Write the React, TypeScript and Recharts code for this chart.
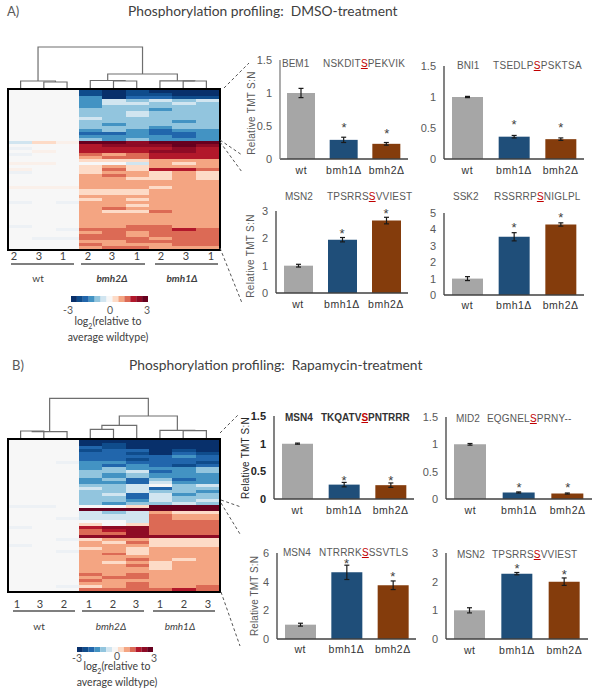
import { BarChart, Bar, Cell, ComposedChart, ErrorBar, Line, ScatterChart, Scatter, XAxis, YAxis } from 'recharts';

// shared categories
const strains = ['wt', 'bmh1Δ', 'bmh2Δ'];
const strainColors = ['#a6a6a6', '#1f4e79', '#843c0c'];

// bar values
const bem1Values = [1, 0.29, 0.23];
const bem1Errors = [0.07, 0.04, 0.02];
const bem1Stars = [null, 0.5, 0.405];
const bni1Values = [1, 0.36, 0.32];
const bni1Errors = [0.01, 0.02, 0.02];
const bni1Stars = [null, 0.575, 0.54];
const msn2Values = [1, 1.95, 2.65];
const msn2Errors = [0.05, 0.08, 0.12];
const msn2Stars = [null, 2.24, 2.98];
const ssk2Values = [1, 3.55, 4.3];
const ssk2Errors = [0.12, 0.25, 0.1];
const ssk2Stars = [null, 4.19, 4.84];
const msn4aValues = [1, 0.26, 0.25];
const msn4aErrors = [0.01, 0.04, 0.04];
const msn4aStars = [null, 0.37, 0.37];
const mid2Values = [1, 0.12, 0.1];
const mid2Errors = [0.015, 0.01, 0.01];
const mid2Stars = [null, 0.24, 0.24];
const msn4bValues = [1, 4.65, 3.75];
const msn4bErrors = [0.1, 0.5, 0.3];
const msn4bStars = [null, 5.39, 4.48];
const msn2bValues = [1, 2.28, 2.0];
const msn2bErrors = [0.09, 0.04, 0.13];
const msn2bStars = [null, 2.51, 2.3];

// heatmap colours by log2 level
const heatLevels = [-3, -2.5, -2, -1.5, -1, -0.5, -0.25, 0, 0.25, 0.5, 1, 1.5, 2, 2.5, 3];
const heatColors = ['#08306b', '#0f4c8c', '#2166ac', '#4393c3', '#92c5de', '#d1e5f0', '#edf1f5', '#f7f7f7', '#faf0ea', '#fddbc7', '#f4a582', '#dc6a55', '#b2182b', '#8e0b25', '#67001f'];
const legendLevels = [-3, -2.5, -2, -1.5, -1, -0.5, 0, 0.5, 1, 1.5, 2, 2.5, 3];

// one row per phosphosite, nine samples: wt x3, bmh2 x3, bmh1 x3
const dmsoRows = [
  [0, 0, 0, -2.5, -3, -2.5, -3, -3, -3],
  [0, 0, 0, -2.5, -3, -2.5, -2.5, -3, -3],
  [0, 0, 0, -1.5, -3, -2, -2, -2.5, -2.5],
  [0, 0, 0, -1.5, -0.5, -1, -0.5, -1, -0.5],
  [0, 0, 0, -1.5, -0.5, -0.5, -1, -0.5, -1],
  [0, 0, 0, -1.5, -1, -1, -1, -1, -1],
  [0, 0, 0, -1, -1, -1, -1.5, -1, -1],
  [0, 0, 0, -1, -1, -0.5, -1, -1, -1],
  [0, 0, 0, -1, -1, -0.5, -1, -1, -1],
  [0, 0, 0, -0.5, -1, -1, -1, -1, -1],
  [0, 0, 0, -1, -1, -1, -1, -1.5, -1],
  [0, 0, 0, -1, -1.5, -1, -1, -1, -1],
  [0, 0, 0, -1, -1, -1, -1.5, -1, -1],
  [0, 0, 0, -1.5, -1, -1.5, -2, -1.5, -1.5],
  [0, 0, 0, -2, -2, -1.5, -2, -2, -1.5],
  [0, 0, 0, -1.5, -1.5, -1.5, -1.5, -2, -1.5],
  [0, 0, 0, -1, -1.5, -1, -1.5, -1.5, -1.5],
  [-0.5, 0.5, 0.25, 3, 3, 2.5, 3, 3, 3],
  [0, 0, 0, 2, 2.5, 2.5, 2.5, 3, 2.5],
  [-0.25, 0, 0, 2, 2, 2, 2, 2.5, 2],
  [0, 0.25, 0, 2, 2, 2, 2.5, 2.5, 2],
  [-0.25, 0, 0, 1.5, 1, 1.5, 2, 2, 2],
  [0, 0, 0, 1, 1.5, 1.5, 2, 2, 2],
  [0, 0, 0, 0.5, 0.5, 0.5, 1, 1, 1],
  [0.25, 0.25, 0, 0, 0, -0.5, 1, 0.5, 1],
  [0, 0, 0, 0.5, 1, 0.5, 1, 1, 1],
  [0.25, 0, 0, 0.5, 1.5, 0.5, 2, 2, 1.5],
  [-0.25, 0, 0, 0.5, 1, 1, 0.5, 1, 0.5],
  [0, 0, 0, 1, 1.5, 1, 0.5, 1, 0.5],
  [0, 0, 0, 1, 1, 0.5, 0.5, 1, 0.5],
  [0, 0, 0, 1, 1, 1, 1, 1, 1],
  [0, 0, 0, 1, 1, 1, 1, 1, 1],
  [0.25, 0.25, 0.25, 1, 1, 1, 0.5, 1, 1],
  [0, 0, 0, 0.5, 0.5, 0.5, 1, 1, 1],
  [0, 0, 0, 0.5, 0.5, 0.5, 1, 1, 1],
  [0, 0, 0, 1, 1, 1, 1, 1, 1],
  [0, 0, 0, 0.5, 1, 0.5, 1, 1, 1],
  [-0.25, 0, -0.25, 1, 1, 1, 1, 1, 1],
  [0, 0, 0, 1, 1, 0.5, 1, 1, 1],
  [0, 0, 0, 1, 1.5, 1, 1, 1, 1],
  [0, 0, 0, 1, 0.5, 0.5, 1.5, 1, 1],
  [0, 0, 0, 1, 1, 1, 1, 1, 1],
  [0, 0, 0, 1, 1, 1, 1, 1, 1],
  [0, 0, 0, 1, 1, 1, 1, 1, 1],
  [0, 0, 0, 1, 1, 1, 1, 1, 1],
  [-0.25, 0, 0, 1, 1, 1.5, 1.5, 1, 1],
  [0, 0, -0.25, 1.5, 1.5, 1.5, 1.5, 2, 1.5],
  [0, 0, 0, 1, 1.5, 1, 1.5, 1.5, 1.5],
  [0, 0, 0, 1.5, 1.5, 1, 1.5, 1.5, 1.5],
  [0, -0.25, -0.25, 1.5, 1.5, 1.5, 1, 1.5, 1.5],
  [0, 0, 0, 1, 1, 1.5, 1.5, 1.5, 1.5],
  [0, 0, 0, 1.5, 1, 1, 1, 1.5, 1.5],
  [0, 0, 0, 1, 1.5, 1.5, 1, 1, 1],
];

const rapaRows = [
  [0, 0, 0, -3, -3, -3, -3, -3, -3],
  [0, 0, 0, -3, -2.5, -3, -3, -3, -3],
  [0, 0, 0, -2, -2.5, -3, -3, -3, -3],
  [0, 0, 0, -2.5, -2, -2, -3, -2.5, -3],
  [0, 0, 0, -2, -2, -2.5, -3, -2, -2.5],
  [0, 0, 0, -2, -2, -2, -2, -1.5, -2],
  [0, 0, 0, -2, -2, -2.5, -2, -2, -2],
  [0, 0, -0.25, -1.5, -1.5, -2, -2, -2, -2.5],
  [0, 0, 0, -1.5, -2, -1.5, -2, -2.5, -2],
  [0, 0, 0, -1.5, -1, -1.5, -1.5, -1.5, -1],
  [0, 0, 0, -1, -1, -0.5, -2, -1.5, -1],
  [0, 0, 0, -1, -1.5, -1, -1.5, -1.5, -1.5],
  [0, 0, 0, -1, -1.5, -1, -1.5, -1.5, -1.5],
  [0, 0, 0, -1.5, -1, -2, -1, -2, -1.5],
  [0, 0, 0, -1.5, -1.5, -2, -0.5, -1.5, -1.5],
  [0, 0, 0, -1, -1, -0.5, 0, -1, -0.5],
  [0, 0, 0, -0.5, -1, -0.5, -2, -1, -1],
  [0, 0, 0, -1, -1, -0.5, -1, -1, -1.5],
  [0, 0, 0, -1, -0.5, -2, -0.5, -1.5, -1],
  [0, 0, 0, -1, -1, -2, -0.5, -1, -1],
  [0, 0, 0, -1, -1, -1.5, -0.5, -1, -0.5],
  [0, 0, 0, -1, -1.5, -1, -1, -0.5, -1],
  [-0.25, -0.25, 0, 0, 0, 0.5, 3, 3, 3],
  [0, 0, 0, 3, 3, 3, 3, 3, 3],
  [0, 0, 0, -0.5, -1, -0.5, 1, 0.5, 0.5],
  [0, 0, 0, -0.5, -0.5, -0.5, 1.5, 1, 1],
  [0, 0, -0.25, -0.5, -0.5, -0.5, 1.5, 1, 1],
  [0, 0, 0, 0, 0, -0.5, 1.5, 1.5, 1.5],
  [0, 0, 0, 0.5, 0, 0.5, 1.5, 1.5, 1.5],
  [-0.25, 0, 0, 2, 2.5, 2.5, 1.5, 1.5, 1.5],
  [0, 0, 0, 1.5, 2, 2.5, 1.5, 1.5, 1.5],
  [0, 0, 0, 1.5, 1.5, 2.5, 1.5, 1.5, 1.5],
  [0, 0, 0, 2.5, 2.5, 2.5, 2.5, 2.5, 2.5],
  [0, 0, -0.25, 0.5, 1, 1, 0.5, 0.5, 0.5],
  [0, 0, 0, 1, 0.5, 1.5, 0.5, 0.5, 0.5],
  [-0.25, 0, 0, 1, 1, 1, 0.5, 0.5, 0.5],
  [0, 0, 0, 0.5, 1, 0.5, 1, 1, 1],
  [0, 0, -0.25, 1, 1, 0.5, 1, 1, 1],
  [0, 0, 0, 1, 1.5, 0.5, 1, 1, 1],
  [0, 0, 0, 1, 1, 1, 1, 1, 1],
  [0, 0, 0, 1, 1, 1.5, 1, 0.5, 1],
  [0, 0, 0, 1, 0.5, 1, 0.5, 1, 1],
  [0, 0, 0, 1, 1, 1.5, 0.5, 1, 1],
  [0, 0, 0, 1, 1, 1, 0.5, 1, 1],
  [0, 0, 0, 1, 1, 1, 1, 1, 1],
  [0, 0, 0, 1.5, 1, 1.5, 1, 1, 1],
  [0, 0, 0, 1, 1.5, 1.5, 1, 1, 1],
  [0, 0, 0, 1.5, 1, 1, 1, 1, 1],
  [0, 0, 0, 1, 1, 1.5, 1, 1, 1],
  [0, 0, -0.25, 0.5, 1, 1.5, 1, 1, 1.5],
  [0, 0, 0, 1.5, 1.5, 1.5, 1.5, 2, 1.5],
];

// dendrogram merges: left / right sample position, child heights, merge height
const dmsoLinks = [
  { l: 1.5, r: 2.5, lh: 0, rh: 0, h: 6 },
  { l: 0.5, r: 2, lh: 0, rh: 6, h: 7 },
  { l: 4.5, r: 5.5, lh: 0, rh: 0, h: 7 },
  { l: 3.5, r: 5, lh: 0, rh: 7, h: 7.5 },
  { l: 7.5, r: 8.5, lh: 0, rh: 0, h: 7 },
  { l: 6.5, r: 8, lh: 0, rh: 7, h: 7.2 },
  { l: 4.25, r: 7.25, lh: 7.5, rh: 7.2, h: 14 },
  { l: 1.25, r: 5.75, lh: 7, rh: 14, h: 41 },
];
const rapaLinks = [
  { l: 0.5, r: 1.5, lh: 0, rh: 0, h: 7 },
  { l: 1, r: 2.5, lh: 7, rh: 0, h: 6.4 },
  { l: 3.5, r: 4.5, lh: 0, rh: 0, h: 8.7 },
  { l: 4, r: 5.5, lh: 8.7, rh: 0, h: 12.7 },
  { l: 7.5, r: 8.5, lh: 0, rh: 0, h: 7.3 },
  { l: 6.5, r: 8, lh: 0, rh: 7.3, h: 7.6 },
  { l: 4.75, r: 7.25, lh: 12.7, rh: 7.6, h: 22 },
  { l: 1.75, r: 6, lh: 6.4, rh: 22, h: 39.7 },
];

const GREY = '#595959';
const BODY = '"Liberation Sans", Arial, sans-serif';
const HUMANIST = 'Lato, "Open Sans", sans-serif';

const heatColor = (v: number) => heatColors[heatLevels.indexOf(v)];
const sampleKeys = ['s0', 's1', 's2', 's3', 's4', 's5', 's6', 's7', 's8'];

function T({ x, y, children, anchor = 'middle', size = 10, color = GREY, font = BODY, weight = 400, style, rotate = 0 }: any) {
  const tx = anchor === 'start' ? '0' : '-50%';
  return (
    <div
      style={{
        position: 'absolute',
        left: x,
        top: y,
        transform: `translate(${tx},-50%) rotate(${rotate}deg)`,
        fontFamily: font,
        fontSize: size,
        fontWeight: weight,
        color,
        whiteSpace: 'pre',
        lineHeight: 1,
        ...style,
      }}
    >
      {children}
    </div>
  );
}

function Peptide({ text, site }: { text: string; site: number }) {
  return (
    <>
      {text.slice(0, site)}
      <span style={{ color: '#c00000', textDecoration: 'underline' }}>{text[site]}</span>
      {text.slice(site + 1)}
    </>
  );
}

function Heatmap({ rows, left, top, width, height }: any) {
  const table = rows.map((_: number[], i: number) => {
    const row: any = { name: `p${i}` };
    sampleKeys.forEach((k) => (row[k] = 1));
    return row;
  });
  return (
    <div style={{ position: 'absolute', left, top, width, height, border: '2px solid #000', boxSizing: 'content-box' }}>
      <BarChart width={width} height={height} data={table} layout="vertical" barCategoryGap={0} margin={{ top: 0, right: 0, bottom: 0, left: 0 }}>
        <XAxis type="number" domain={[0, 9]} hide />
        <YAxis type="category" dataKey="name" hide />
        {sampleKeys.map((k, c) => (
          <Bar key={k} dataKey={k} stackId="heat" isAnimationActive={false} shapeRendering="crispEdges">
            {rows.map((r: number[], i: number) => (
              <Cell key={i} fill={heatColor(r[c])} />
            ))}
          </Bar>
        ))}
      </BarChart>
    </div>
  );
}

function ColorBar({ left, top, width, height }: any) {
  const row: any = { name: 'log2' };
  legendLevels.forEach((v) => (row[`v${v}`] = 1));
  return (
    <div style={{ position: 'absolute', left, top }}>
      <BarChart width={width} height={height} data={[row]} layout="vertical" barCategoryGap={0} margin={{ top: 0, right: 0, bottom: 0, left: 0 }}>
        <XAxis type="number" domain={[0, legendLevels.length]} hide />
        <YAxis type="category" dataKey="name" hide />
        {legendLevels.map((v) => (
          <Bar key={v} dataKey={`v${v}`} stackId="bar" fill={heatColor(v)} isAnimationActive={false} />
        ))}
      </BarChart>
    </div>
  );
}

function Dendrogram({ links, left, top, width, height }: any) {
  return (
    <div style={{ position: 'absolute', left, top }}>
      <ScatterChart width={width} height={height} margin={{ top: 0, right: 0, bottom: 0, left: 0 }}>
        <XAxis type="number" dataKey="x" domain={[0, 9]} hide />
        <YAxis type="number" dataKey="y" domain={[0, height]} hide />
        {links.map((m: any, i: number) => (
          <Scatter
            key={i}
            data={[
              { x: m.l, y: m.lh },
              { x: m.l, y: m.h },
              { x: m.r, y: m.h },
              { x: m.r, y: m.rh },
            ]}
            line={{ stroke: '#6e6e6e', strokeWidth: 1.2 }}
            shape={() => <g />}
            isAnimationActive={false}
          />
        ))}
      </ScatterChart>
    </div>
  );
}

function Connectors() {
  const lines = [
    [[224, 88], [249, 63]],
    [[220, 140], [242, 155]],
    [[220, 142], [242, 172]],
    [[220, 248], [242, 303]],
    [[220, 433], [238, 415]],
    [[221, 500], [241, 507]],
    [[221, 503], [240, 534]],
    [[221, 592], [240, 646]],
  ];
  return (
    <div style={{ position: 'absolute', left: 0, top: 0, pointerEvents: 'none' }}>
      <ScatterChart width={600} height={694} margin={{ top: 0, right: 0, bottom: 0, left: 0 }}>
        <XAxis type="number" dataKey="x" domain={[0, 600]} hide />
        <YAxis type="number" dataKey="y" domain={[0, 694]} reversed hide />
        {lines.map((l, i) => (
          <Scatter
            key={i}
            data={l.map(([x, y]) => ({ x, y }))}
            line={{ stroke: '#555', strokeWidth: 1, strokeDasharray: '3 2.5' }}
            shape={() => <g />}
            isAnimationActive={false}
          />
        ))}
      </ScatterChart>
    </div>
  );
}

const renderStar = (p: any) => {
  if (p.value == null) return <g />;
  return (
    <text x={p.x} y={p.y + 6} textAnchor="middle" fontSize={13} fontFamily={BODY} fill="#404040">
      *
    </text>
  );
};

function StrainBars({ values, errors, stars, ticks, axisX, right, axisTop, baseline, labelY, barSize, bold, axisColor = '#404040' }: any) {
  const yw = 40;
  const mt = 8;
  const h = baseline - axisTop;
  const data = strains.map((name, i) => ({ name, value: values[i], err: errors[i], star: stars[i] }));
  const tickColor = bold ? '#262626' : GREY;
  return (
    <div style={{ position: 'absolute', left: axisX - yw, top: axisTop - mt }}>
      <ComposedChart width={right - axisX + yw + 2} height={h + mt + 24} data={data} margin={{ top: mt, right: 2, bottom: 0, left: 0 }}>
        <XAxis
          dataKey="name"
          height={24}
          tickLine={false}
          interval={0}
          axisLine={{ stroke: '#404040', strokeWidth: 1.3 }}
          tick={{ fontSize: 10.5, fontFamily: BODY, fill: '#333', dy: labelY - baseline - 13, letterSpacing: 0.5 }}
        />
        <YAxis
          width={yw}
          domain={[0, ticks[ticks.length - 1]]}
          ticks={ticks}
          interval={0}
          tickLine={false}
          axisLine={{ stroke: axisColor, strokeWidth: 1.3 }}
          tick={{ fontSize: 11, fontFamily: BODY, fill: tickColor, fontWeight: bold ? 700 : 400 }}
        />
        <Bar dataKey="value" barSize={barSize} isAnimationActive={false}>
          {strains.map((s, i) => (
            <Cell key={s} fill={strainColors[i]} />
          ))}
          <ErrorBar dataKey="err" width={2.5} strokeWidth={1.2} stroke="#1a1a1a" />
        </Bar>
        <Line dataKey="star" stroke="none" dot={false} legendType="none" isAnimationActive={false} label={renderStar} connectNulls={false} />
      </ComposedChart>
    </div>
  );
}

const relLabel = 'Relative TMT S:N';

export default function App() {
  return (
    <div style={{ position: 'relative', width: 600, height: 694, background: '#fff', overflow: 'hidden' }}>
      <style>{'body{margin:0}'}</style>

      {/* panel A */}
      <T x={7} y={11} anchor="start" size={13} font={HUMANIST}>A)</T>
      <T x={128} y={11} anchor="start" size={13.8} font={HUMANIST} color="#404040">Phosphorylation profiling:  DMSO-treatment</T>
      <Dendrogram links={dmsoLinks} left={9} top={45} width={209} height={43} />
      <Heatmap rows={dmsoRows} left={7} top={88} width={210} height={159} />
      {['2', '3', '1', '2', '3', '1', '2', '3', '1'].map((t, i) => (
        <T key={i} x={[14, 39, 63, 88, 112, 137, 161, 186, 211][i]} y={255} size={11} font={HUMANIST} color="#404040">{t}</T>
      ))}
      {[[11, 63], [81, 64], [155, 63]].map(([x, w], i) => (
        <div key={i} style={{ position: 'absolute', left: x, top: 263, width: w, height: 2, background: '#7f7f7f' }} />
      ))}
      <T x={38} y={278} size={10} font={HUMANIST} color="#404040">wt</T>
      <T x={112} y={278} size={10} font={HUMANIST} color="#404040" style={{ fontStyle: 'italic', fontWeight: 700 }}>bmh2Δ</T>
      <T x={182} y={278} size={10} font={HUMANIST} color="#404040" style={{ fontStyle: 'italic', fontWeight: 700 }}>bmh1Δ</T>
      <ColorBar left={71} top={296} width={77} height={6} />
      <T x={68} y={310} size={10.5} font={HUMANIST}>-3</T>
      <T x={110} y={310} size={10.5} font={HUMANIST}>0</T>
      <T x={147} y={310} size={10.5} font={HUMANIST}>3</T>
      <T x={108} y={323} size={10.5} font={HUMANIST} color="#404040">log<sub style={{ fontSize: 7 }}>2</sub>(relative to</T>
      <T x={108} y={337} size={10.5} font={HUMANIST} color="#404040">average wildtype)</T>

      <StrainBars values={bem1Values} errors={bem1Errors} stars={bem1Stars} ticks={[0, 0.5, 1, 1.5]} axisX={280} right={408} axisTop={60} baseline={159} labelY={172} barSize={28} axisColor="#808080" />
      <StrainBars values={bni1Values} errors={bni1Errors} stars={bni1Stars} ticks={[0, 0.5, 1, 1.5]} axisX={444} right={584} axisTop={66} baseline={159} labelY={172} barSize={31} />
      <StrainBars values={msn2Values} errors={msn2Errors} stars={msn2Stars} ticks={[0, 1, 2, 3]} axisX={276} right={408} axisTop={211} baseline={293} labelY={306} barSize={29} />
      <StrainBars values={ssk2Values} errors={ssk2Errors} stars={ssk2Stars} ticks={[0, 1, 2, 3, 4, 5]} axisX={444} right={584} axisTop={213} baseline={295} labelY={307} barSize={31} />

      <T x={252} y={113} size={10} rotate={-90} style={{ letterSpacing: 0.3 }}>{relLabel}</T>
      <T x={251} y={256} size={10} rotate={-90} style={{ letterSpacing: 0.3 }}>{relLabel}</T>
      <T x={282} y={64} anchor="start">BEM1</T>
      <T x={323} y={64} anchor="start" style={{ letterSpacing: 0.2 }}><Peptide text="NSKDITSPEKVIK" site={6} /></T>
      <T x={457} y={66} anchor="start">BNI1</T>
      <T x={493} y={66} anchor="start" style={{ letterSpacing: 0.3 }}><Peptide text="TSEDLPSPSKTSA" site={6} /></T>
      <T x={285} y={197} anchor="start">MSN2</T>
      <T x={327} y={197} anchor="start" style={{ letterSpacing: 0.2 }}><Peptide text="TPSRRSSVVIEST" site={6} /></T>
      <T x={453} y={197} anchor="start">SSK2</T>
      <T x={494} y={197} anchor="start" style={{ letterSpacing: 0.2 }}><Peptide text="RSSRRPSNIGLPL" site={6} /></T>

      {/* panel B */}
      <T x={12} y={365} anchor="start" size={13} font={HUMANIST}>B)</T>
      <T x={129} y={365} anchor="start" size={13.8} font={HUMANIST} color="#404040">Phosphorylation profiling:  Rapamycin-treatment</T>
      <Dendrogram links={rapaLinks} left={9} top={397} width={209} height={41} />
      <Heatmap rows={rapaRows} left={7} top={438} width={210} height={151} />
      {['1', '3', '2', '1', '2', '3', '1', '2', '3'].map((t, i) => (
        <T key={i} x={[17, 40, 64, 89, 113, 136, 160, 184, 208][i]} y={603} size={11} font={HUMANIST} color="#404040">{t}</T>
      ))}
      {[[13, 62], [82, 62], [153, 62]].map(([x, w], i) => (
        <div key={i} style={{ position: 'absolute', left: x, top: 610, width: w, height: 2, background: '#7f7f7f' }} />
      ))}
      <T x={39} y={626} size={10} font={HUMANIST} color="#404040">wt</T>
      <T x={111} y={626} size={10} font={HUMANIST} color="#404040" style={{ fontStyle: 'italic' }}>bmh2Δ</T>
      <T x={180} y={626} size={10} font={HUMANIST} color="#404040" style={{ fontStyle: 'italic' }}>bmh1Δ</T>
      <ColorBar left={77} top={647} width={76} height={5} />
      <T x={77} y={658} size={10.5} font={HUMANIST}>-3</T>
      <T x={117} y={656} size={10.5} font={HUMANIST}>0</T>
      <T x={154} y={658} size={10.5} font={HUMANIST}>3</T>
      <T x={117} y={668} size={10.5} font={HUMANIST} color="#404040">log<sub style={{ fontSize: 7 }}>2</sub>(relative to</T>
      <T x={117} y={682} size={10.5} font={HUMANIST} color="#404040">average wildtype)</T>

      <StrainBars values={msn4aValues} errors={msn4aErrors} stars={msn4aStars} ticks={[0, 0.5, 1, 1.5]} axisX={274} right={414} axisTop={416} baseline={499} labelY={512} barSize={31} bold />
      <StrainBars values={mid2Values} errors={mid2Errors} stars={mid2Stars} ticks={[0, 0.5, 1, 1.5]} axisX={446} right={592} axisTop={417} baseline={499} labelY={512} barSize={32} />
      <StrainBars values={msn4bValues} errors={msn4bErrors} stars={msn4bStars} ticks={[0, 2, 4, 6]} axisX={277} right={416} axisTop={553} baseline={639} labelY={651} barSize={31} />
      <StrainBars values={msn2bValues} errors={msn2bErrors} stars={msn2bStars} ticks={[0, 1, 2, 3]} axisX={446} right={588} axisTop={553} baseline={639} labelY={652} barSize={31} />

      <T x={246} y={458} size={10} rotate={-90} color="#262626" style={{ letterSpacing: 0.2 }}>{relLabel}</T>
      <T x={255} y={596} size={10} rotate={-90} style={{ letterSpacing: 0.1 }}>{relLabel}</T>
      <T x={285} y={418} anchor="start" weight={700} color="#333">MSN4</T>
      <T x={321} y={418} anchor="start" weight={700} color="#333"><Peptide text="TKQATVSPNTRRR" site={6} /></T>
      <T x={456} y={419} anchor="start">MID2</T>
      <T x={487} y={419} anchor="start" style={{ letterSpacing: 0.2 }}><Peptide text="EQGNELSPRNY--" site={6} /></T>
      <T x={283} y={553} anchor="start">MSN4</T>
      <T x={319} y={553} anchor="start" style={{ letterSpacing: 0.2 }}><Peptide text="NTRRRKSSSVTLS" site={6} /></T>
      <T x={457} y={555} anchor="start">MSN2</T>
      <T x={492} y={555} anchor="start" style={{ letterSpacing: 0.2 }}><Peptide text="TPSRRSSVVIEST" site={6} /></T>

      <Connectors />
    </div>
  );
}
